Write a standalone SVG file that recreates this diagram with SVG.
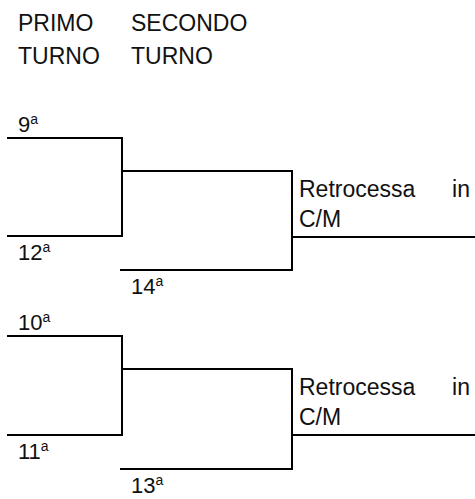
<svg xmlns="http://www.w3.org/2000/svg" width="475" height="499" viewBox="0 0 475 499">
<style>
.t{font-family:"Liberation Sans",Arial,sans-serif;font-size:23px;fill:#111}
.n{font-family:"Liberation Sans",Arial,sans-serif;font-size:22px;fill:#111}
.sup{font-size:14px}
.c path{fill:none;stroke:#000;stroke-width:2}
</style>
<rect width="475" height="499" fill="#fff"/>
<g id="header">
<text class="t" x="18" y="31">PRIMO</text>
<text class="t" x="18" y="64">TURNO</text>
<text class="t" x="131" y="31">SECONDO</text>
<text class="t" x="131" y="64">TURNO</text>
</g>
<g class="c" id="connectors">
<path d="M7 138H122V236H7"/>
<path d="M122 171H292V270H120"/>
<path d="M292 237H475"/>
<path d="M7 336H122V435H7"/>
<path d="M122 369H292V469H120"/>
<path d="M292 435H475"/>
</g>
<g id="n9"><text class="n" x="18" y="132">9<tspan class="sup" dy="-8">a</tspan></text></g>
<g id="n12"><text class="n" x="18" y="260">12<tspan class="sup" dy="-8">a</tspan></text></g>
<g id="n14"><text class="n" x="131" y="294">14<tspan class="sup" dy="-8">a</tspan></text></g>
<g id="r1"><text class="t" x="299" y="197">Retrocessa</text><text class="t" x="470" y="197" text-anchor="end">in</text><text class="t" x="299" y="227">C/M</text></g>
<g id="n10"><text class="n" x="18" y="330">10<tspan class="sup" dy="-8">a</tspan></text></g>
<g id="n11"><text class="n" x="18" y="459">11<tspan class="sup" dy="-8">a</tspan></text></g>
<g id="n13"><text class="n" x="131" y="493">13<tspan class="sup" dy="-8">a</tspan></text></g>
<g id="r2"><text class="t" x="299" y="395">Retrocessa</text><text class="t" x="470" y="395" text-anchor="end">in</text><text class="t" x="299" y="425">C/M</text></g>
</svg>
